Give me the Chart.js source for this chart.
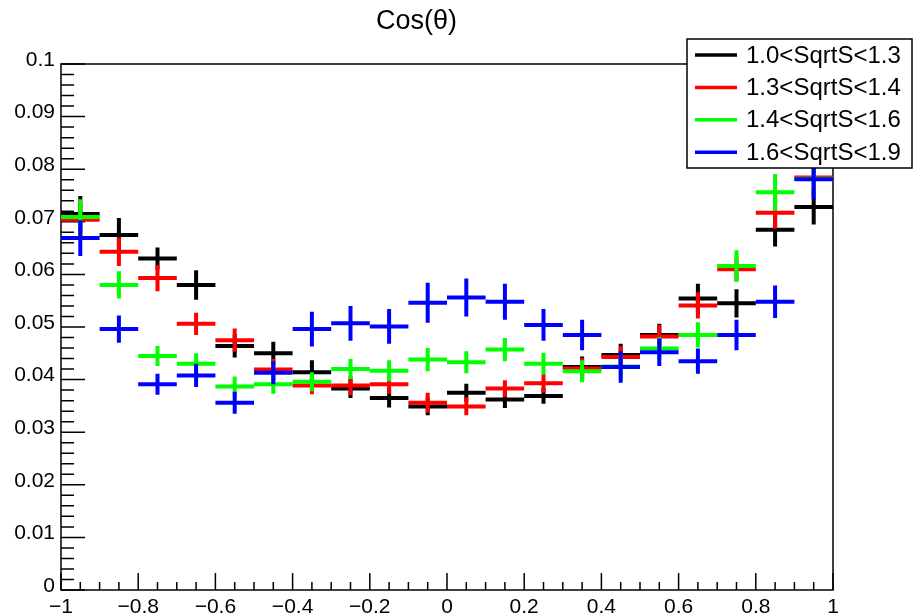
<!DOCTYPE html>
<html>
<head>
<meta charset="utf-8">
<script src="https://cdn.jsdelivr.net/npm/chart.js@4.4.1/dist/chart.umd.min.js"></script>
<style>
  body { margin: 0; background: #fff; }
</style>
</head>
<body>
<canvas id="c" width="913" height="614"></canvas>
<script>
// bin centres of cos(theta), bin width 0.1
var binCenters = [-0.95, -0.85, -0.75, -0.65, -0.55, -0.45, -0.35, -0.25, -0.15, -0.05,
                  0.05, 0.15, 0.25, 0.35, 0.45, 0.55, 0.65, 0.75, 0.85, 0.95];
var binWidth = 0.1;

var seriesLabels = ['1.0<SqrtS<1.3', '1.3<SqrtS<1.4', '1.4<SqrtS<1.6', '1.6<SqrtS<1.9'];
var seriesColors = ['#000000', '#ff0000', '#00ff00', '#0000ff'];

var vals13 = [0.0715, 0.0675, 0.0630, 0.0580, 0.0464, 0.0450, 0.0414, 0.0383, 0.0365, 0.0349,
              0.0375, 0.0362, 0.0369, 0.0424, 0.0447, 0.0485, 0.0554, 0.0545, 0.0685, 0.0728];
var errs13 = [0.0034, 0.0032, 0.0021, 0.0028, 0.0022, 0.0022, 0.0023, 0.0018, 0.0018, 0.0017,
              0.0017, 0.0016, 0.0015, 0.0020, 0.0021, 0.0021, 0.0028, 0.0027, 0.0032, 0.0033];

var vals14 = [0.0704, 0.0643, 0.0593, 0.0506, 0.0475, 0.0419, 0.0389, 0.0389, 0.0391, 0.0356,
              0.0349, 0.0383, 0.0393, 0.0421, 0.0443, 0.0482, 0.0541, 0.0610, 0.0717, 0.0784];
var errs14 = [0.0030, 0.0027, 0.0025, 0.0021, 0.0022, 0.0020, 0.0017, 0.0018, 0.0018, 0.0019,
              0.0017, 0.0016, 0.0018, 0.0020, 0.0021, 0.0022, 0.0025, 0.0023, 0.0030, 0.0033];

var vals16 = [0.0709, 0.0580, 0.0445, 0.0430, 0.0387, 0.0391, 0.0396, 0.0420, 0.0417, 0.0438,
              0.0433, 0.0457, 0.0430, 0.0416, 0.0425, 0.0459, 0.0485, 0.0616, 0.0756, 0.0782];
var errs16 = [0.0034, 0.0026, 0.0019, 0.0020, 0.0019, 0.0018, 0.0018, 0.0019, 0.0020, 0.0022,
              0.0021, 0.0022, 0.0021, 0.0021, 0.0022, 0.0022, 0.0024, 0.0030, 0.0035, 0.0036];

var vals19 = [0.0669, 0.0496, 0.0391, 0.0408, 0.0356, 0.0413, 0.0496, 0.0507, 0.0501, 0.0546,
              0.0556, 0.0548, 0.0504, 0.0485, 0.0424, 0.0452, 0.0435, 0.0485, 0.0548, 0.0781];
var errs19 = [0.0034, 0.0026, 0.0020, 0.0022, 0.0021, 0.0022, 0.0033, 0.0033, 0.0033, 0.0038,
              0.0036, 0.0034, 0.0030, 0.0029, 0.0030, 0.0026, 0.0024, 0.0029, 0.0031, 0.0038];

var yTicks = [0, 0.01, 0.02, 0.03, 0.04, 0.05, 0.06, 0.07, 0.08, 0.09, 0.1];
var xTicks = [-1, -0.8, -0.6, -0.4, -0.2, 0, 0.2, 0.4, 0.6, 0.8, 1];

var FONT = '"Liberation Sans", Arial, Helvetica, sans-serif';

function points(vals) {
    return binCenters.map(function (x, i) { return { x: x, y: vals[i] }; });
}

var allVals = [vals13, vals14, vals16, vals19];
var allErrs = [errs13, errs14, errs16, errs19];

var datasets = allVals.map(function (v, k) {
    return {
        label: seriesLabels[k],
        data: points(v),
        errors: allErrs[k],
        borderColor: seriesColors[k],
        backgroundColor: seriesColors[k],
        pointRadius: 0,
        showLine: false
    };
});

function fmtX(v) {
    var r = Math.round(v * 10) / 10;
    if (r === 0) return '0';
    var s = Math.abs(r).toString();
    return r < 0 ? '\u2212' + s : s;
}

// frame + ROOT style inner ticks
var framePlugin = {
    id: 'frame',
    beforeDatasetsDraw: function (chart) {
        var ctx = chart.ctx, a = chart.chartArea;
        var xs = chart.scales.x, ys = chart.scales.y;
        ctx.save();
        ctx.strokeStyle = '#000';
        ctx.lineWidth = 1.5;
        ctx.strokeRect(a.left, a.top, a.right - a.left, a.bottom - a.top);
        ctx.beginPath();
        var i, p;
        for (i = 0; i <= 50; i++) {
            p = ys.getPixelForValue(i * 0.002);
            var len = (i % 5 === 0) ? 24 : 13;
            ctx.moveTo(a.left, p);
            ctx.lineTo(a.left + len, p);
        }
        for (i = 0; i <= 40; i++) {
            p = xs.getPixelForValue(-1 + i * 0.05);
            var l2 = (i % 4 === 0) ? 17 : 8;
            ctx.moveTo(p, a.bottom);
            ctx.lineTo(p, a.bottom - l2);
        }
        ctx.stroke();
        ctx.restore();
    }
};

// histogram crosses: bin width horizontally, error vertically
var crossPlugin = {
    id: 'crosses',
    afterDatasetsDraw: function (chart) {
        var ctx = chart.ctx;
        var xs = chart.scales.x, ys = chart.scales.y;
        ctx.save();
        ctx.lineWidth = 4;
        ctx.lineCap = 'butt';
        chart.data.datasets.forEach(function (ds) {
            ctx.strokeStyle = ds.borderColor;
            ds.data.forEach(function (pt, i) {
                var e = ds.errors[i];
                var x0 = xs.getPixelForValue(pt.x - binWidth / 2);
                var x1 = xs.getPixelForValue(pt.x + binWidth / 2);
                var xc = xs.getPixelForValue(pt.x);
                var yc = ys.getPixelForValue(pt.y);
                ctx.beginPath();
                ctx.moveTo(x0, yc);
                ctx.lineTo(x1, yc);
                ctx.moveTo(xc, ys.getPixelForValue(pt.y - e));
                ctx.lineTo(xc, ys.getPixelForValue(pt.y + e));
                ctx.stroke();
            });
        });
        ctx.restore();
    }
};

var legendPlugin = {
    id: 'rootLegend',
    afterDraw: function (chart) {
        var ctx = chart.ctx;
        ctx.save();
        ctx.fillStyle = '#fff';
        ctx.fillRect(687, 39, 225, 129);
        ctx.strokeStyle = '#000';
        ctx.lineWidth = 1.5;
        ctx.strokeRect(687, 39, 225, 129);
        ctx.font = '24px ' + FONT;
        ctx.textBaseline = 'middle';
        ctx.textAlign = 'left';
        chart.data.datasets.forEach(function (ds, k) {
            var y = 55 + k * 32.4;
            ctx.strokeStyle = ds.borderColor;
            ctx.lineWidth = 3.5;
            ctx.beginPath();
            ctx.moveTo(695, y);
            ctx.lineTo(737, y);
            ctx.stroke();
            ctx.fillStyle = '#000';
            ctx.fillText(ds.label, 746, y + 1);
        });
        ctx.restore();
    }
};

new Chart(document.getElementById('c'), {
    type: 'scatter',
    data: { datasets: datasets },
    plugins: [framePlugin, crossPlugin, legendPlugin],
    options: {
        responsive: false,
        animation: false,
        layout: { padding: { left: 0, right: 80, top: 0, bottom: 0 } },
        plugins: {
            legend: { display: false },
            tooltip: { enabled: false },
            title: {
                display: true,
                text: 'Cos(\u03b8)',
                color: '#000',
                font: { family: FONT, size: 27, weight: 'normal', lineHeight: 1.2 },
                padding: { top: 5.6, bottom: 26 }
            }
        },
        scales: {
            x: {
                type: 'linear',
                min: -1,
                max: 1,
                afterBuildTicks: function (s) { s.ticks = xTicks.map(function (v) { return { value: v }; }); },
                afterFit: function (s) { s.height = 24; },
                grid: { display: false, drawTicks: false },
                border: { display: false },
                ticks: {
                    color: '#000',
                    padding: 5,
                    maxRotation: 0,
                    autoSkip: false,
                    font: { family: FONT, size: 21 },
                    callback: function (v) { return fmtX(v); }
                }
            },
            y: {
                type: 'linear',
                min: 0,
                max: 0.1,
                afterBuildTicks: function (s) { s.ticks = yTicks.map(function (v) { return { value: v }; }); },
                afterFit: function (s) { s.width = 61; },
                grid: { display: false, drawTicks: false },
                border: { display: false },
                ticks: {
                    color: '#000',
                    padding: 6,
                    labelOffset: -4,
                    font: { family: FONT, size: 21 },
                    callback: function (v) { return String(+v.toFixed(3)); }
                }
            }
        }
    }
});
</script>
</body>
</html>
